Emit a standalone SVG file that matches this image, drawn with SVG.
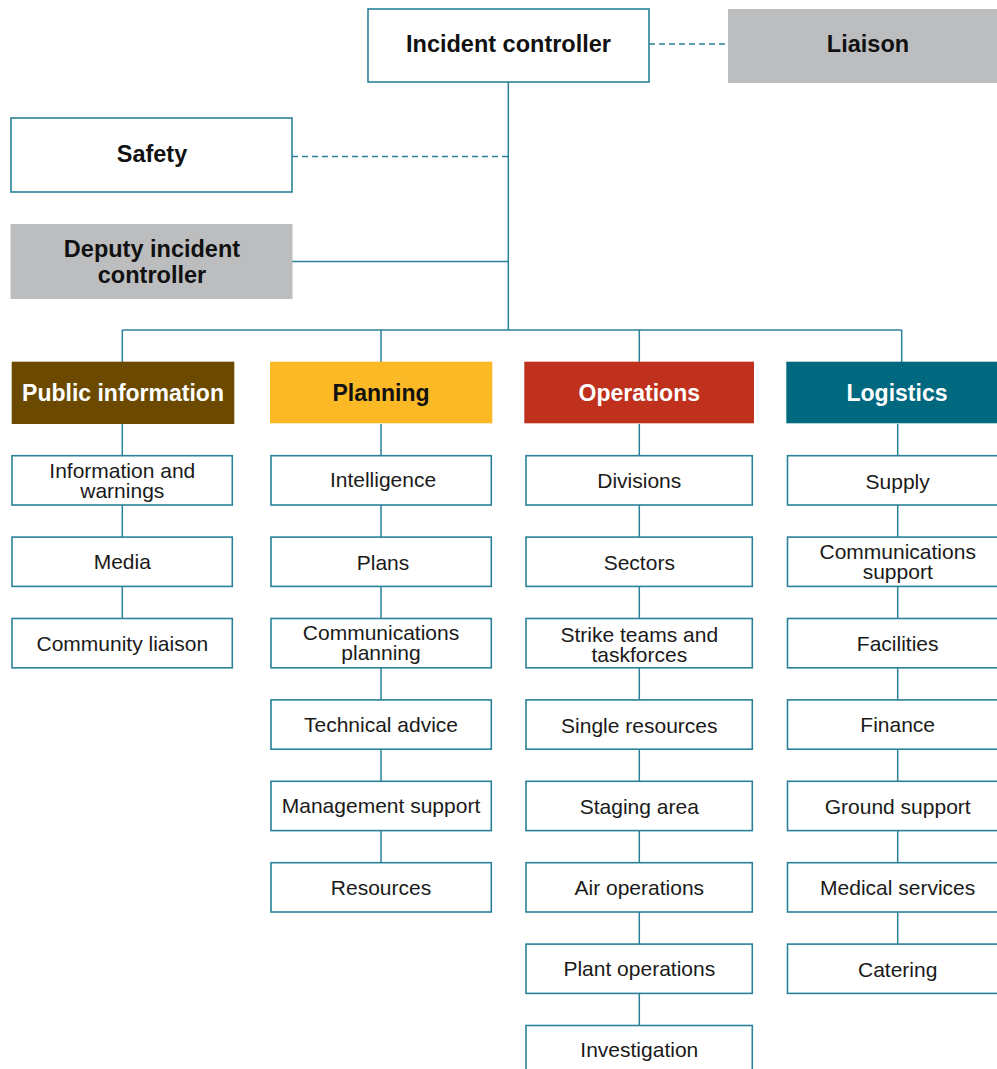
<svg xmlns="http://www.w3.org/2000/svg" width="997" height="1069" viewBox="0 0 997 1069">
  <style>
    .box { fill: #ffffff; stroke: #2a8199; stroke-width: 1.6; }
    .grey { fill: #bcbdbf; }
    .line { fill: none; stroke: #2a8199; stroke-width: 1.5; }
    .dash { fill: none; stroke: #2a8199; stroke-width: 1.3; stroke-dasharray: 6 4; }
    .top { font-family: "Liberation Sans", Arial, sans-serif; font-size: 23.5px; font-weight: bold; fill: #111111; text-anchor: middle; }
    .head { font-family: "Liberation Sans", Arial, sans-serif; font-size: 23px; font-weight: bold; text-anchor: middle; }
    .item { font-family: "Liberation Sans", Arial, sans-serif; font-size: 21px; fill: #1a1a1a; text-anchor: middle; }
  </style>
  <rect width="997" height="1069" fill="#ffffff"/>

  <!-- connectors -->
  <g id="connectors">
    <line class="dash" x1="649" y1="44" x2="728" y2="44"/>
    <line class="dash" x1="292" y1="156.5" x2="508" y2="156.5"/>
    <line class="line" x1="292" y1="261.5" x2="508" y2="261.5"/>
    <line class="line" x1="508.3" y1="82" x2="508.3" y2="330"/>
    <line class="line" x1="122.3" y1="330" x2="901.7" y2="330"/>
    <line class="line" x1="122.3" y1="330" x2="122.3" y2="362"/>
    <line class="line" x1="381" y1="330" x2="381" y2="362"/>
    <line class="line" x1="639.3" y1="330" x2="639.3" y2="362"/>
    <line class="line" x1="901.7" y1="330" x2="901.7" y2="362"/>
    <!-- column spines -->
    <line class="line" x1="122.3" y1="424" x2="122.3" y2="619"/>
    <line class="line" x1="381" y1="424" x2="381" y2="863"/>
    <line class="line" x1="639.3" y1="424" x2="639.3" y2="1026"/>
    <line class="line" x1="897.7" y1="424" x2="897.7" y2="944"/>
  </g>

  <!-- command level -->
  <g id="incident-controller">
    <rect class="box" x="368" y="9" width="281" height="73"/>
    <text class="top" x="508.5" y="51.5">Incident controller</text>
  </g>
  <g id="liaison">
    <rect class="grey" x="728" y="9" width="269" height="74"/>
    <text class="top" x="868" y="51.5">Liaison</text>
  </g>
  <g id="safety">
    <rect class="box" x="11" y="118" width="281" height="74"/>
    <text class="top" x="152" y="162">Safety</text>
  </g>
  <g id="deputy">
    <rect class="grey" x="10.5" y="224" width="282" height="75"/>
    <text class="top" x="152" y="257">Deputy incident</text>
    <text class="top" x="152" y="283">controller</text>
  </g>

  <!-- section headers -->
  <g id="public-information">
    <rect x="11.7" y="361.7" width="222.6" height="62.3" fill="#6b4a00"/>
    <text class="head" x="123" y="401" fill="#ffffff">Public information</text>
  </g>
  <g id="planning">
    <rect x="270" y="361.7" width="222.3" height="61.6" fill="#fbb926"/>
    <text class="head" x="381" y="401" fill="#111111">Planning</text>
  </g>
  <g id="operations">
    <rect x="524.3" y="361.7" width="229.7" height="61.6" fill="#bf311d"/>
    <text class="head" x="639.3" y="401" fill="#ffffff">Operations</text>
  </g>
  <g id="logistics">
    <rect x="786.3" y="361.7" width="222" height="61.6" fill="#00687f"/>
    <text class="head" x="897" y="401" fill="#ffffff">Logistics</text>
  </g>

  <!-- public information items -->
  <g id="pi-warnings">
    <rect class="box" x="12" y="455.7" width="220.3" height="49.3"/>
    <text class="item" x="122.3" y="477.5">Information and</text>
    <text class="item" x="122.3" y="497.5">warnings</text>
  </g>
  <g id="pi-media">
    <rect class="box" x="12" y="537.1" width="220.3" height="49.3"/>
    <text class="item" x="122.3" y="569">Media</text>
  </g>
  <g id="pi-community">
    <rect class="box" x="12" y="618.5" width="220.3" height="49.3"/>
    <text class="item" x="122.3" y="650.5">Community liaison</text>
  </g>

  <!-- planning items -->
  <g id="pl-intelligence">
    <rect class="box" x="271" y="455.7" width="220.3" height="49.3"/>
    <text class="item" x="383" y="486.5">Intelligence</text>
  </g>
  <g id="pl-plans">
    <rect class="box" x="271" y="537.1" width="220.3" height="49.3"/>
    <text class="item" x="383" y="569.5">Plans</text>
  </g>
  <g id="pl-comms">
    <rect class="box" x="271" y="618.5" width="220.3" height="49.3"/>
    <text class="item" x="381" y="640">Communications</text>
    <text class="item" x="381" y="660">planning</text>
  </g>
  <g id="pl-technical">
    <rect class="box" x="271" y="699.9" width="220.3" height="49.3"/>
    <text class="item" x="381" y="731.5">Technical advice</text>
  </g>
  <g id="pl-management">
    <rect class="box" x="271" y="781.3" width="220.3" height="49.3"/>
    <text class="item" x="381" y="813">Management support</text>
  </g>
  <g id="pl-resources">
    <rect class="box" x="271" y="862.7" width="220.3" height="49.3"/>
    <text class="item" x="381" y="894.5">Resources</text>
  </g>

  <!-- operations items -->
  <g id="op-divisions">
    <rect class="box" x="526" y="455.7" width="226.3" height="49.3"/>
    <text class="item" x="639.3" y="488">Divisions</text>
  </g>
  <g id="op-sectors">
    <rect class="box" x="526" y="537.1" width="226.3" height="49.3"/>
    <text class="item" x="639.3" y="569.5">Sectors</text>
  </g>
  <g id="op-strike">
    <rect class="box" x="526" y="618.5" width="226.3" height="49.3"/>
    <text class="item" x="639.3" y="641.5">Strike teams and</text>
    <text class="item" x="639.3" y="661.5">taskforces</text>
  </g>
  <g id="op-single">
    <rect class="box" x="526" y="699.9" width="226.3" height="49.3"/>
    <text class="item" x="639.3" y="733">Single resources</text>
  </g>
  <g id="op-staging">
    <rect class="box" x="526" y="781.3" width="226.3" height="49.3"/>
    <text class="item" x="639.3" y="813.5">Staging area</text>
  </g>
  <g id="op-air">
    <rect class="box" x="526" y="862.7" width="226.3" height="49.3"/>
    <text class="item" x="639.3" y="894.5">Air operations</text>
  </g>
  <g id="op-plant">
    <rect class="box" x="526" y="944.1" width="226.3" height="49.3"/>
    <text class="item" x="639.3" y="976">Plant operations</text>
  </g>
  <g id="op-investigation">
    <rect class="box" x="526" y="1025.5" width="226.3" height="49.3"/>
    <text class="item" x="639.3" y="1057">Investigation</text>
  </g>

  <!-- logistics items -->
  <g id="lg-supply">
    <rect class="box" x="787.5" y="455.7" width="222" height="49.3"/>
    <text class="item" x="897.7" y="489">Supply</text>
  </g>
  <g id="lg-comms">
    <rect class="box" x="787.5" y="537.1" width="222" height="49.3"/>
    <text class="item" x="897.7" y="558.5">Communications</text>
    <text class="item" x="897.7" y="578.5">support</text>
  </g>
  <g id="lg-facilities">
    <rect class="box" x="787.5" y="618.5" width="222" height="49.3"/>
    <text class="item" x="897.7" y="650.5">Facilities</text>
  </g>
  <g id="lg-finance">
    <rect class="box" x="787.5" y="699.9" width="222" height="49.3"/>
    <text class="item" x="897.7" y="731.5">Finance</text>
  </g>
  <g id="lg-ground">
    <rect class="box" x="787.5" y="781.3" width="222" height="49.3"/>
    <text class="item" x="897.7" y="813.5">Ground support</text>
  </g>
  <g id="lg-medical">
    <rect class="box" x="787.5" y="862.7" width="222" height="49.3"/>
    <text class="item" x="897.7" y="894.5">Medical services</text>
  </g>
  <g id="lg-catering">
    <rect class="box" x="787.5" y="944.1" width="222" height="49.3"/>
    <text class="item" x="897.7" y="976.5">Catering</text>
  </g>
</svg>
